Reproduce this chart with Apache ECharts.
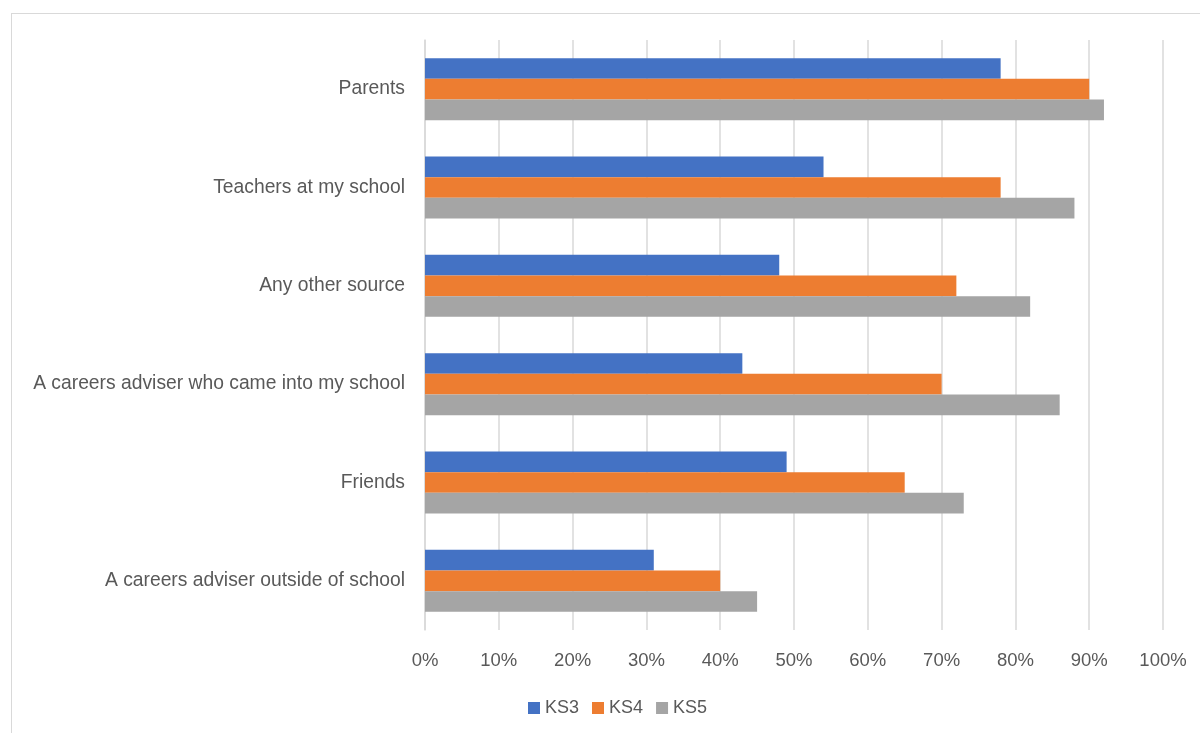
<!DOCTYPE html>
<html><head><meta charset="utf-8">
<script src="https://cdn.jsdelivr.net/npm/echarts@6/dist/echarts.min.js"></script>
<style>html,body{margin:0;padding:0;background:#fff}#frame{position:absolute;left:11px;top:13px;width:1200px;height:740px;border:1px solid #d9d9d9;box-sizing:border-box}#c{width:1200px;height:733px;position:absolute;left:0;top:0}</style>
</head><body><div id="frame"></div><div id="c"></div>
<script>
const categories = ["Parents","Teachers at my school","Any other source","A careers adviser who came into my school","Friends","A careers adviser outside of school"];
const ks3 = [78,54,48,43,49,31];
const ks4 = [90,78,72,70,65,40];
const ks5 = [92,88,82,86,73,45];
const seriesNames = ["KS3","KS4","KS5"];
const colors = ["#4472C4","#ED7D31","#A5A5A5"];
const font = "'Liberation Sans', Arial, sans-serif";
const chart = echarts.init(document.getElementById('c'));
const vals=[ks3,ks4,ks5];
chart.setOption({
  animation:false,
  grid:{left:425,right:37,top:40,bottom:103,containLabel:false},
  legend:{top:694,left:523,itemWidth:12,itemHeight:12,itemGap:13,itemTextGap:5,icon:'rect',
    textStyle:{color:'#595959',fontSize:18,fontFamily:font},data:seriesNames},
  xAxis:{type:'value',min:0,max:100,interval:10,
    axisLabel:{formatter:'{value}%',color:'#595959',fontSize:18.5,fontFamily:font,margin:21},
    splitLine:{lineStyle:{color:'#d9d9d9',width:1.5}},axisLine:{show:false},axisTick:{show:false}},
  yAxis:{type:'category',inverse:true,data:categories,
    axisLabel:{color:'#595959',fontSize:19.3,fontFamily:font,margin:20},
    axisLine:{lineStyle:{color:'#d9d9d9',width:1.5}},axisTick:{show:false}},
  series:seriesNames.map((n,i)=>({name:n,type:'bar',data:vals[i],itemStyle:{color:colors[i]},
    barGap:'0%',barCategoryGap:'37%'}))
});
</script></body></html>
